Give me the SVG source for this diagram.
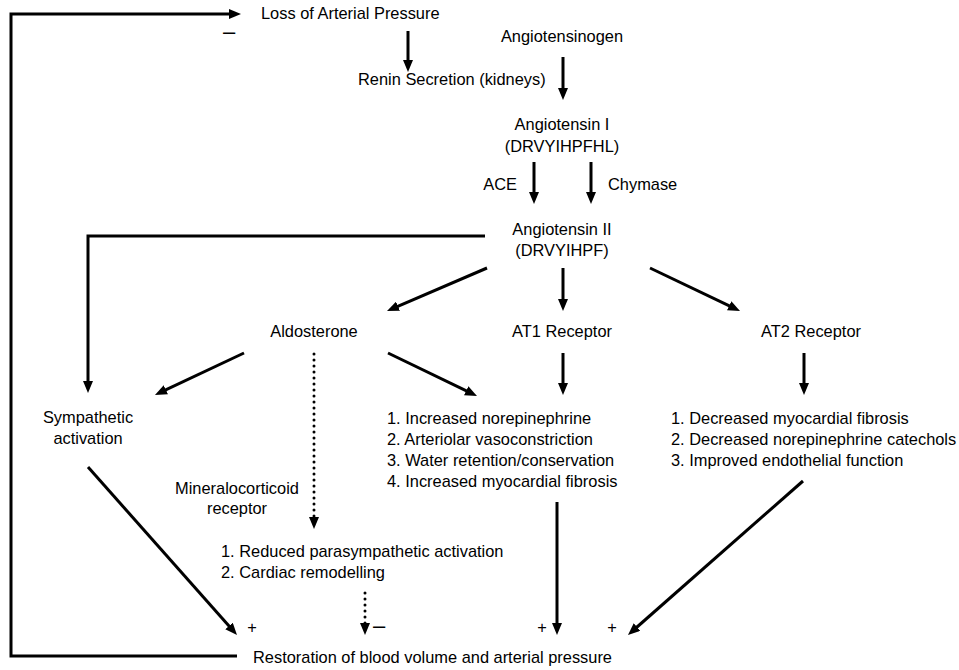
<svg xmlns="http://www.w3.org/2000/svg" width="959" height="670" viewBox="0 0 959 670">
<style>
text{font-family:"Liberation Sans",Arial,sans-serif;font-size:16.4px;fill:#000}
.c{text-anchor:middle}
.e{text-anchor:end}
.m{font-size:22px}
.ln{fill:none;stroke:#000;stroke-width:3;marker-end:url(#ah)}
.dt{fill:none;stroke:#000;stroke-width:3;stroke-linecap:round;stroke-dasharray:0 6;marker-end:url(#ah)}
</style>
<defs>
<marker id="ah" viewBox="0 0 12 10" markerWidth="12" markerHeight="10" markerUnits="userSpaceOnUse" refX="6" refY="5" orient="auto">
<path d="M0,0 L12,5 L0,10 z" fill="#000"/>
</marker>
</defs>
<rect width="959" height="670" fill="#fff"/>
<g id="connectors">
<polyline class="ln" points="237,656 11,656 11,14 235,14"/>
<line class="ln" x1="408" y1="31" x2="408" y2="66"/>
<line class="ln" x1="563" y1="57" x2="563" y2="94"/>
<line class="ln" x1="534" y1="162" x2="534" y2="198"/>
<line class="ln" x1="591" y1="162" x2="591" y2="198"/>
<polyline class="ln" points="485,236 88,236 88,387"/>
<line class="ln" x1="487" y1="268" x2="392.5" y2="308.6"/>
<line class="ln" x1="563" y1="268" x2="563" y2="305"/>
<line class="ln" x1="650" y1="268" x2="734.6" y2="308.4"/>
<line class="ln" x1="244" y1="353" x2="160.4" y2="392.4"/>
<line class="dt" x1="314" y1="354" x2="314" y2="523"/>
<line class="ln" x1="388" y1="353" x2="471.6" y2="393.4"/>
<line class="ln" x1="563" y1="353" x2="563" y2="389"/>
<line class="ln" x1="804" y1="353" x2="804" y2="389"/>
<line class="ln" x1="88" y1="467" x2="233" y2="630.5"/>
<line class="dt" x1="365" y1="593" x2="365" y2="629"/>
<line class="ln" x1="557" y1="502" x2="557" y2="629"/>
<line class="ln" x1="803" y1="481" x2="632.5" y2="631"/>
</g>
<g id="signs">
<text class="c m" x="229" y="39">–</text>
<text class="c" x="252" y="633">+</text>
<text class="c m" x="379" y="633">–</text>
<text class="c" x="542" y="633">+</text>
<text class="c" x="612" y="633">+</text>
</g>
<g id="loss"><text x="261" y="19">Loss of Arterial Pressure</text></g>
<g id="angiotensinogen"><text class="c" x="562" y="42">Angiotensinogen</text></g>
<g id="renin"><text x="358" y="85">Renin Secretion (kidneys)</text></g>
<g id="ang1"><text class="c" x="562" y="130">Angiotensin I</text><text class="c" x="562" y="152">(DRVYIHPFHL)</text></g>
<g id="ace"><text class="e" x="517" y="190">ACE</text></g>
<g id="chymase"><text x="608" y="190">Chymase</text></g>
<g id="ang2"><text class="c" x="562" y="235">Angiotensin II</text><text class="c" x="562" y="256">(DRVYIHPF)</text></g>
<g id="aldosterone"><text class="c" x="314" y="337">Aldosterone</text></g>
<g id="at1"><text class="c" x="562" y="337">AT1 Receptor</text></g>
<g id="at2"><text class="c" x="811" y="337">AT2 Receptor</text></g>
<g id="sympathetic"><text class="c" x="88" y="423">Sympathetic</text><text class="c" x="88" y="444">activation</text></g>
<g id="at1effects">
<text x="387" y="424">1. Increased norepinephrine</text>
<text x="387" y="445">2. Arteriolar vasoconstriction</text>
<text x="387" y="466">3. Water retention/conservation</text>
<text x="387" y="487">4. Increased myocardial fibrosis</text>
</g>
<g id="at2effects">
<text x="671" y="424">1. Decreased myocardial fibrosis</text>
<text x="671" y="445">2. Decreased norepinephrine catechols</text>
<text x="671" y="466">3. Improved endothelial function</text>
</g>
<g id="mineralocorticoid"><text class="c" x="237" y="494">Mineralocorticoid</text><text class="c" x="237" y="514">receptor</text></g>
<g id="mreffects">
<text x="221" y="557">1. Reduced parasympathetic activation</text>
<text x="221" y="578">2. Cardiac remodelling</text>
</g>
<g id="restoration"><text x="253" y="663">Restoration of blood volume and arterial pressure</text></g>
</svg>
